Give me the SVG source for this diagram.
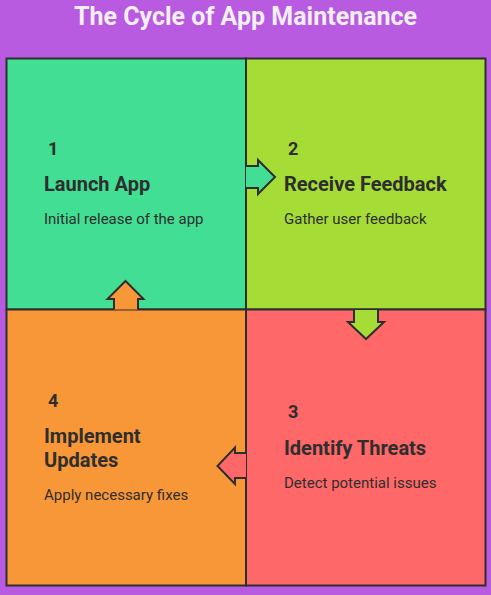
<svg xmlns="http://www.w3.org/2000/svg" width="491" height="595" viewBox="0 0 491 595">
<style>
.q{stroke:#2e2e2e;stroke-width:2}
.a{stroke:#2e2e2e;stroke-width:2;stroke-linejoin:miter}
.n{font-family:Roboto,"Liberation Sans",sans-serif;font-weight:700;font-size:18px;fill:#2e2e2e}
.t{font-family:Roboto,"Liberation Sans",sans-serif;font-weight:700;font-size:20px;fill:#2e2e2e}
.d{font-family:Roboto,"Liberation Sans",sans-serif;font-size:15px;fill:#2e2e2e}
.title{font-family:Roboto,"Liberation Sans",sans-serif;font-weight:700;font-size:25px;fill:#f4eef6}
</style>
<rect x="0" y="0" width="491" height="595" fill="#b95be0"/>
<text class="title" x="245.5" y="25" text-anchor="middle">The Cycle of App Maintenance</text>
<g id="node1">
<rect class="q" x="6.5" y="58.5" width="239.5" height="251" fill="#42de94"/>
<text class="n" x="48" y="155">1</text>
<text class="t" x="44" y="191">Launch App</text>
<text class="d" x="44" y="224">Initial release of the app</text>
</g>
<g id="node2">
<rect class="q" x="246" y="58.5" width="239.5" height="251" fill="#a6dc36"/>
<text class="n" x="288" y="155">2</text>
<text class="t" x="284" y="191">Receive Feedback</text>
<text class="d" x="284" y="224">Gather user feedback</text>
</g>
<g id="node3">
<rect class="q" x="246" y="309.5" width="239.5" height="276" fill="#ff6868"/>
<text class="n" x="288" y="418">3</text>
<text class="t" x="284" y="455">Identify Threats</text>
<text class="d" x="284" y="488">Detect potential issues</text>
</g>
<g id="node4">
<rect class="q" x="6.5" y="309.5" width="239.5" height="276" fill="#f89738"/>
<text class="n" x="48" y="407">4</text>
<text class="t" x="44" y="443">Implement</text>
<text class="t" x="44" y="467">Updates</text>
<text class="d" x="44" y="500">Apply necessary fixes</text>
</g>
<g id="connectors">
<path class="a" fill="#42de94" d="M246,166 H258 V160 L275,177 L258,194 V188 H246"/>
<path class="a" fill="#a6dc36" d="M354,310 V322 H348 L366,339 L384,322 H378 V310"/>
<path class="a" fill="#ff6868" d="M246,453 H235 V447.5 L217.5,466 L235,484 V478 H246"/>
<path class="a" fill="#f89738" d="M114,309.5 V299 H107.5 L125.5,281 L143.5,299 H138 V309.5"/>
</g>
</svg>
